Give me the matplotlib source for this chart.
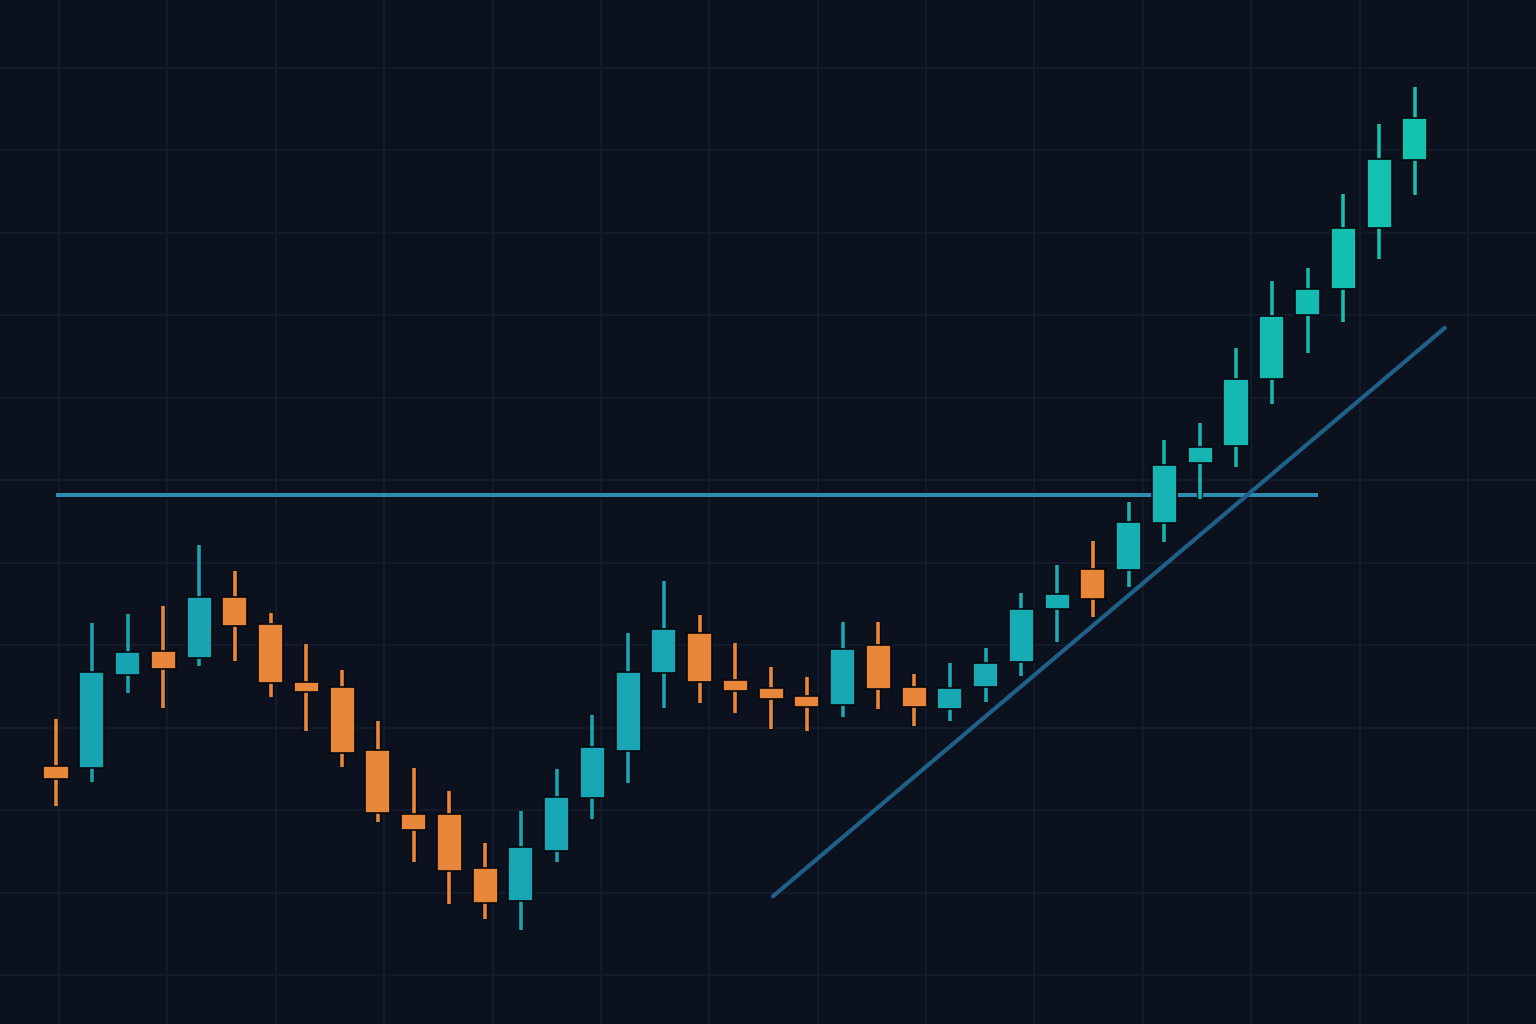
import matplotlib
matplotlib.use("Agg")
import matplotlib.pyplot as plt
import numpy as np
from matplotlib.colors import LinearSegmentedColormap
from matplotlib.patches import Rectangle

# OHLC values (price units, arbitrary scale)
OPEN = [75.4, 75.2, 86.4, 89.3, 88.5, 95.9, 92.6, 85.6, 85.0, 77.3,
        69.6, 69.6, 63.0, 59.0, 65.1, 71.5, 77.2, 86.7, 91.5, 85.8,
        84.8, 83.9, 82.8, 90.1, 85.0, 82.3, 85.0, 88.0, 94.4, 99.3,
        99.2, 104.8, 112.1, 114.2, 122.3, 130.1, 133.2, 140.6, 148.8]
HIGH = [81.1, 92.7, 93.8, 94.8, 102.2, 99.0, 93.9, 90.2, 87.0, 80.8,
        75.2, 72.4, 66.1, 69.9, 75.0, 81.6, 91.5, 97.8, 93.7, 90.3,
        87.4, 86.2, 92.8, 92.8, 86.5, 87.9, 89.7, 96.4, 99.8, 102.7,
        107.4, 114.9, 117.0, 126.1, 134.2, 135.8, 144.7, 153.2, 157.7]
LOW = [70.5, 73.5, 84.2, 82.4, 87.5, 88.1, 83.8, 79.6, 75.3, 68.6,
       63.8, 58.7, 56.8, 55.5, 63.8, 69.0, 73.3, 82.4, 83.0, 81.8,
       79.9, 79.6, 81.3, 82.3, 80.2, 80.8, 83.2, 86.3, 90.4, 93.5,
       97.1, 102.5, 107.8, 111.6, 119.3, 125.5, 129.2, 136.8, 144.6]
CLOSE = [73.8, 86.8, 89.2, 87.2, 95.9, 92.4, 85.5, 84.4, 77.0, 69.7,
         67.6, 62.7, 58.8, 65.6, 71.6, 77.7, 86.8, 92.0, 85.6, 84.5,
         83.5, 82.5, 89.6, 84.7, 82.5, 84.8, 87.9, 94.4, 96.2, 95.6,
         105.0, 111.9, 114.1, 122.3, 129.9, 133.2, 140.6, 149.0, 153.9]

# resistance level and rising trendline
RESIST_LEVEL = 108.2
RESIST_FROM, RESIST_TO = 0.0, 35.3
TREND_X = [20.05, 38.84]
TREND_Y = [59.6, 128.5]

BG = "#0b111d"
GRID = "#131c2c"
BEAR = "#e8873a"
bull_cmap = LinearSegmentedColormap.from_list(
    "bull", [(0.0, "#18a3b3"), (0.68, "#18a8b5"), (1.0, "#12c3ae")])

fig = plt.figure(figsize=(15.36, 10.24), dpi=100, facecolor=BG)
ax = fig.add_axes([0, 0, 1, 1])
ax.set_facecolor(BG)

n = len(OPEN)
x = np.arange(n)
body_w = 0.70

for i in x:
    o, h, l, c = OPEN[i], HIGH[i], LOW[i], CLOSE[i]
    col = bull_cmap(i / (n - 1)) if c >= o else BEAR
    ax.plot([i, i], [l, h], color="#05080f", lw=4.2, solid_capstyle="butt", zorder=3)
    ax.plot([i, i], [l, h], color=col, lw=2.6, solid_capstyle="butt", zorder=3.1)
    lo, hi = min(o, c), max(o, c)
    ax.add_patch(Rectangle((i - body_w / 2, lo), body_w, hi - lo,
                           facecolor=col, edgecolor="#05080f", lw=1.2, zorder=4))

ax.plot([RESIST_FROM, RESIST_TO], [RESIST_LEVEL] * 2, color="#05080f",
        lw=4.6, solid_capstyle="butt", zorder=2)
ax.plot([RESIST_FROM, RESIST_TO], [RESIST_LEVEL] * 2, color="#2b8db0",
        lw=3.0, solid_capstyle="butt", zorder=2.1)
ax.plot(TREND_X, TREND_Y, color="#1f6088", lw=3.0, solid_capstyle="round", zorder=5)

ax.set_xlim(-1.566, 41.39)
ax.set_ylim(44.12, 168.24)
ax.set_xticks(np.arange(0.084, 41.4, 3.031))
ax.set_yticks(np.arange(50, 170, 10))
ax.grid(True, color=GRID, lw=1.4)
ax.set_axisbelow(True)
ax.tick_params(length=0, labelbottom=False, labelleft=False)
for s in ax.spines.values():
    s.set_visible(False)

fig.savefig("out.png", dpi=100, facecolor=BG)
